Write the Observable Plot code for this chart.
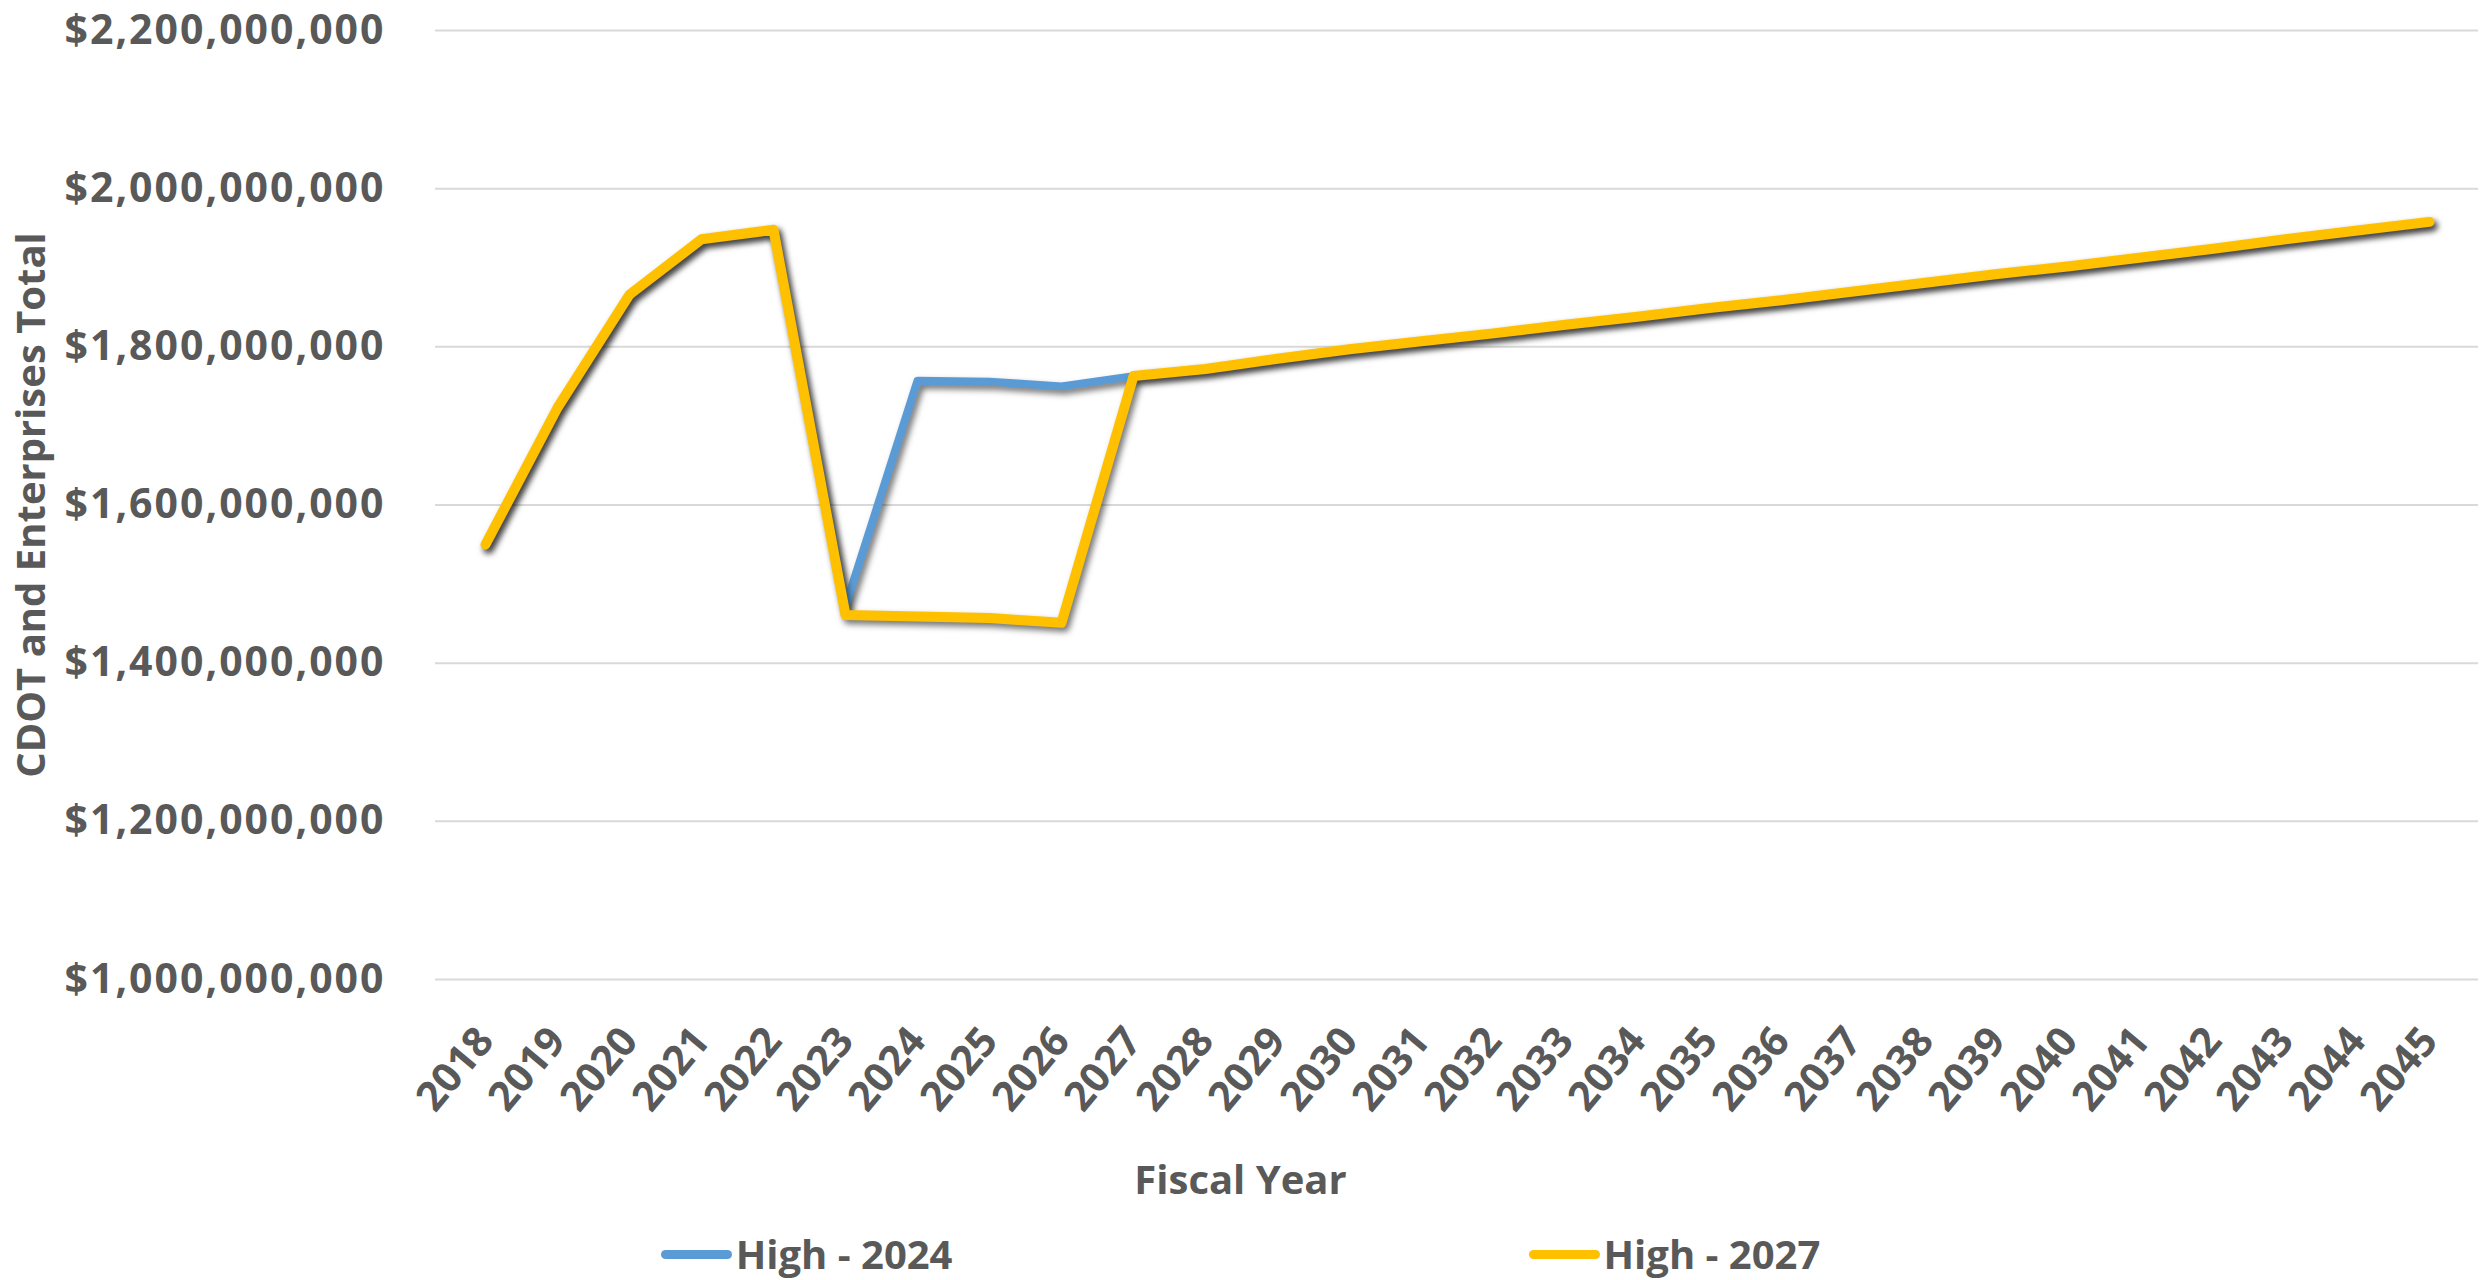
<!DOCTYPE html>
<html>
<head>
<meta charset="utf-8">
<script src="https://cdn.jsdelivr.net/npm/d3@7"></script>
<script src="https://cdn.jsdelivr.net/npm/@observablehq/plot@0.6"></script>
<style>
  html, body { margin: 0; padding: 0; background: #ffffff; }
  body { width: 2481px; height: 1280px; overflow: hidden; font-family: "Open Sans", sans-serif; color: #595959; }
  #chart svg { display: block; font-weight: bold; }
  #chart svg g[aria-label="y-axis tick label"] text {
    font-size: 41px; letter-spacing: 2px;
  }
  #chart svg g[aria-label="x-axis tick label"] text {
    font-size: 41px;
  }
  #chart svg g[aria-label="line"] path {
    filter: drop-shadow(3px 4px 3px rgba(0, 0, 0, 0.55));
  }
  .xtitle {
    height: 98px; line-height: 98px; text-align: center;
    font-size: 40px; font-weight: bold; color: #595959;
  }
  .legend {
    height: 52px; display: flex; justify-content: center; align-items: center; gap: 576px;
    font-size: 40px; line-height: 1; font-weight: bold; color: #595959;
  }
  .legend .item { display: flex; align-items: center; }
  .legend .swatch { display: inline-block; width: 71px; height: 9px; border-radius: 5px; margin-right: 4px; }
</style>
</head>
<body>
<div id="chart"></div>
<div class="xtitle">Fiscal Year</div>
<div class="legend" id="legend"></div>
<script>
// Fiscal years on the category axis
const years = [
  2018, 2019, 2020, 2021, 2022, 2023, 2024, 2025, 2026, 2027,
  2028, 2029, 2030, 2031, 2032, 2033, 2034, 2035, 2036, 2037,
  2038, 2039, 2040, 2041, 2042, 2043, 2044, 2045
];

// CDOT and Enterprises total, in millions of dollars
const high2024 = [
  1550, 1723, 1866, 1936, 1948, 1472, 1757, 1756, 1750, 1763,
  1772, 1785, 1797, 1807, 1817, 1828, 1838, 1849, 1859, 1870,
  1881, 1892, 1902, 1913, 1924, 1936, 1947, 1958
];
const high2027 = [
  1550, 1723, 1866, 1936, 1948, 1461, 1459, 1457, 1451, 1763,
  1772, 1785, 1797, 1807, 1817, 1828, 1838, 1849, 1859, 1870,
  1881, 1892, 1902, 1913, 1924, 1936, 1947, 1958
];

// Y axis tick values, in dollars
const yTicks = [1000e6, 1200e6, 1400e6, 1600e6, 1800e6, 2000e6, 2200e6];

const seriesNames = ["High - 2024", "High - 2027"];
const seriesColors = ["#5B9BD5", "#FFC000"];
const seriesValues = [high2024, high2027];

const rows = seriesNames.flatMap((name, s) =>
  years.map((year, i) => ({series: name, year, value: seriesValues[s][i] * 1e6}))
);

const chart = Plot.plot({
  width: 2481,
  height: 1130,
  marginLeft: 435,
  marginRight: 3,
  marginTop: 30,
  marginBottom: 151,
  style: {fontFamily: "Open Sans", fontSize: "40px", color: "#595959", background: "#ffffff"},
  x: {type: "point", domain: years, padding: 0.5},
  y: {domain: [1000e6, 2200e6]},
  color: {domain: seriesNames, range: seriesColors},
  marks: [
    Plot.gridY(yTicks, {stroke: "#D9D9D9", strokeOpacity: 1, strokeWidth: 2}),
    Plot.axisY(yTicks, {
      tickSize: 0, tickPadding: 50, tickFormat: d3.format("$,"),
      label: "CDOT and Enterprises Total", labelAnchor: "center", labelOffset: 419, labelArrow: "none"
    }),
    Plot.axisX({tickSize: 0, tickPadding: 54, tickRotate: -50, tickFormat: d => String(d), label: null}),
    Plot.lineY(rows.filter(d => d.series === seriesNames[0]), {
      x: "year", y: "value", stroke: "series", strokeWidth: 8,
      strokeLinejoin: "round", strokeLinecap: "round"
    }),
    Plot.lineY(rows.filter(d => d.series === seriesNames[1]), {
      x: "year", y: "value", stroke: "series", strokeWidth: 10,
      strokeLinejoin: "round", strokeLinecap: "round"
    })
  ]
});
document.getElementById("chart").append(chart);

// Legend below the chart
const legend = document.getElementById("legend");
seriesNames.forEach((name, i) => {
  const item = document.createElement("div");
  item.className = "item";
  const sw = document.createElement("span");
  sw.className = "swatch";
  sw.style.background = seriesColors[i];
  const label = document.createElement("span");
  label.textContent = name;
  item.append(sw, label);
  legend.append(item);
});
</script>
</body>
</html>
